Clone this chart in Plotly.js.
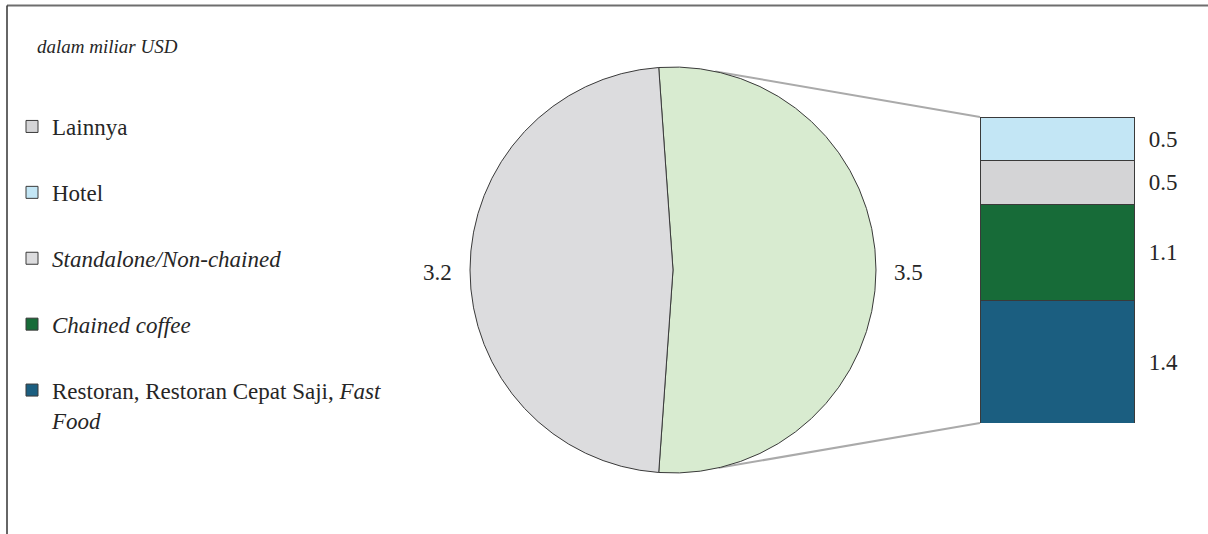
<!DOCTYPE html>
<html>
<head>
<meta charset="utf-8">
<script src="https://cdn.plot.ly/plotly-3.0.1.min.js"></script>
<style>html,body{margin:0;padding:0;background:#fff;}#chart{width:1208px;height:534px;}</style>
</head>
<body>
<div id="chart"></div>
<script>
// ---- data ----
var pieLabels = ['Chained', 'Standalone/Non-chained'];
var pieValues = [3.5, 3.2];
var pieColors = ['#d8ebd0', '#dcdcde'];

// breakdown of the chained slice, bottom to top
var barNames = ['Restoran, Restoran Cepat Saji, <i>Fast</i><br><i>Food</i>', '<i>Chained coffee</i>', 'Lainnya', 'Hotel'];
var barValues = [1.4, 1.1, 0.5, 0.5];
var barColors = ['#1b5e80', '#176b38', '#d4d4d6', '#c3e6f5'];
var barRanks = [5, 4, 1, 2];

var standaloneLegendName = '<i>Standalone/Non-chained</i>';
var subtitle = '<i>dalam miliar USD</i>';

// ---- layout constants ----
var W = 1208, H = 534;
var FONT = 'Liberation Serif';
var FS = 23;
var TXT = '#262626';
var pieCx = 673, pieCy = 270, pieR = 203;
var barX0 = 980, barX1 = 1134, barY0 = 117, barY1 = 423, axisX1 = 1195;

var total = pieValues.reduce(function(a, b) { return a + b; }, 0);
var rotation = -((pieValues[0] / total) * 360 - 180) / 2;

var traces = [];
traces.push({
  type: 'pie',
  labels: pieLabels,
  values: pieValues,
  sort: false,
  direction: 'clockwise',
  rotation: rotation,
  marker: {colors: pieColors, line: {color: '#3a3a3a', width: 1}},
  textinfo: 'none',
  showlegend: false,
  hoverinfo: 'label+value',
  domain: {x: [(pieCx - pieR) / W, (pieCx + pieR) / W], y: [(H - pieCy - pieR) / H, (H - pieCy + pieR) / H]}
});

for (var i = 0; i < barValues.length; i++) {
  traces.push({
    type: 'bar',
    x: [0],
    y: [barValues[i]],
    width: [1],
    name: barNames[i],
    legendgroup: 'g' + i,
    legendrank: barRanks[i],
    marker: {color: barColors[i], line: {color: '#3a3a3a', width: 1}},
    hoverinfo: 'name+y'
  });
}
// legend entry for the standalone slice
traces.push({
  type: 'bar',
  x: [null],
  y: [null],
  name: standaloneLegendName,
  legendgroup: 'gs',
  legendrank: 3,
  marker: {color: pieColors[1], line: {color: '#3a3a3a', width: 1}}
});

// value labels next to the bar
var mids = [], cum = 0, labs = [];
for (var j = 0; j < barValues.length; j++) {
  mids.push(cum + barValues[j] / 2);
  cum += barValues[j];
  labs.push(barValues[j].toFixed(1));
}
var unitPx = barX1 - barX0;
var pxPerVal = (barY1 - barY0) / cum;
traces.push({
  type: 'scatter',
  mode: 'text',
  x: barValues.map(function() { return 0.5 + 29 / unitPx; }),
  y: mids.map(function(m) { return m - 2 / pxPerVal; }),
  text: labs,
  textposition: 'middle center',
  textfont: {family: FONT, size: FS, color: TXT},
  cliponaxis: false,
  showlegend: false,
  hoverinfo: 'skip'
});

var xDom = [barX0 / W, axisX1 / W];
var yDom = [(H - barY1) / H, (H - barY0) / H];

function piePoint(deg, extra) {
  var a = deg * Math.PI / 180, rr = pieR + (extra || 0);
  return [(pieCx + rr * Math.cos(a)) / W, (H - (pieCy - rr * Math.sin(a))) / H];
}
var pTop = piePoint(78), pBot = piePoint(-77);

var shapes = [
  {type: 'line', xref: 'paper', yref: 'paper', x0: pTop[0], y0: pTop[1], x1: xDom[0], y1: yDom[1], line: {color: '#aaaaaa', width: 2}, layer: 'below'},
  {type: 'line', xref: 'paper', yref: 'paper', x0: pBot[0], y0: pBot[1], x1: xDom[0], y1: yDom[0], line: {color: '#aaaaaa', width: 2}, layer: 'below'},
  {type: 'line', xref: 'paper', yref: 'paper', x0: 7 / W, y0: (H - 5.5) / H, x1: 1, y1: (H - 5.5) / H, line: {color: '#6e6e6e', width: 2}},
  {type: 'line', xref: 'paper', yref: 'paper', x0: 7 / W, y0: (H - 5.5) / H, x1: 7 / W, y1: 0, line: {color: '#333333', width: 1.5}}
];

// pie value labels, placed just outside each slice's mid angle
var annotations = [];
var startDeg = rotation; // clockwise from 12 o'clock
for (var k = 0; k < pieValues.length; k++) {
  var span = pieValues[k] / total * 360;
  var midCw = startDeg + span / 2;
  startDeg += span;
  var mathDeg = 90 - midCw;
  var p = piePoint(mathDeg, 16);
  var rightSide = Math.cos(mathDeg * Math.PI / 180) >= 0;
  annotations.push({
    xref: 'paper', yref: 'paper', x: p[0], y: p[1] - 2 / H,
    xanchor: rightSide ? 'left' : 'right', yanchor: 'middle',
    text: pieValues[k].toFixed(1), showarrow: false,
    font: {family: FONT, size: FS, color: TXT}
  });
}

var layout = {
  width: W, height: H,
  margin: {l: 0, r: 0, t: 0, b: 0},
  paper_bgcolor: '#ffffff',
  plot_bgcolor: 'rgba(0,0,0,0)',
  barmode: 'stack',
  bargap: 0,
  title: {text: subtitle, x: 37 / W, xanchor: 'left', xref: 'container', y: 1 - 46 / H, yanchor: 'middle', yref: 'container', font: {family: FONT, size: 19, color: TXT}},
  xaxis: {domain: xDom, range: [-0.5, -0.5 + (axisX1 - barX0) / unitPx], visible: false, fixedrange: true},
  yaxis: {domain: yDom, range: [0, cum], visible: false, fixedrange: true},
  showlegend: true,
  legend: {
    x: 12 / W, xanchor: 'left', y: 1 - 105 / H, yanchor: 'top',
    traceorder: 'grouped', tracegroupgap: 33, valign: 'top',
    font: {family: FONT, size: FS, color: TXT},
    bgcolor: 'rgba(0,0,0,0)', borderwidth: 0
  },
  shapes: shapes,
  annotations: annotations,
  font: {family: FONT, color: TXT}
};

Plotly.newPlot('chart', traces, layout, {displayModeBar: false, staticPlot: true});
</script>
</body>
</html>
